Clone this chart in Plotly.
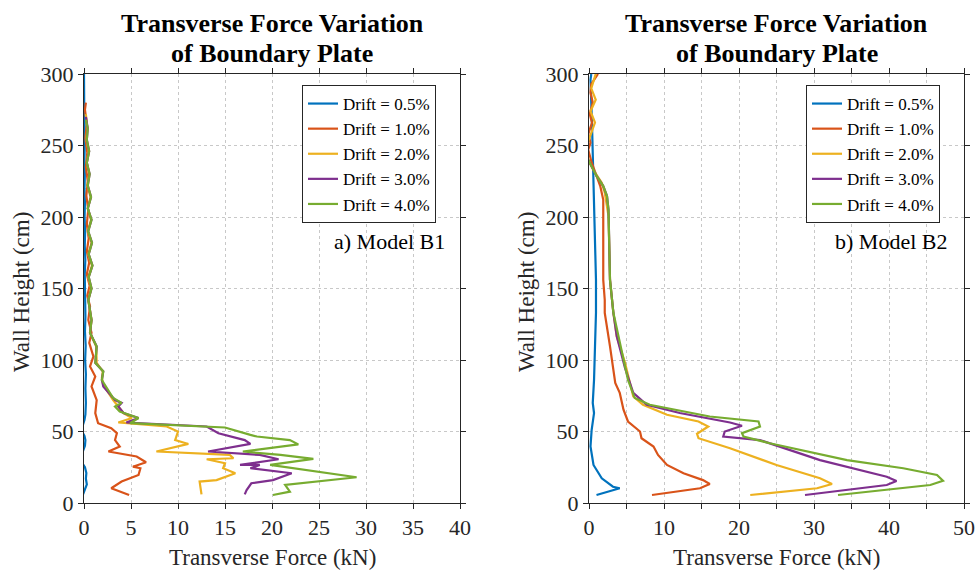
import plotly.graph_objects as go

labels = ["Drift = 0.5%", "Drift = 1.0%", "Drift = 2.0%", "Drift = 3.0%", "Drift = 4.0%"]
colors = ["#0072BD", "#D95319", "#EDB120", "#7E2F8E", "#77AC30"]

# ---------- Model B1 (left) : force (kN), height (cm) ----------
b1_05_h = [6, 9, 13, 17, 21, 25, 28, 33, 37, 40, 44, 47, 50, 55, 58, 62, 70, 80, 90, 100, 110, 120, 130, 140, 150,
           160, 170, 180, 190, 200, 210, 220, 230, 240, 250, 260, 270, 280, 290, 300]
b1_05_f = [-0.1, 0.1, 0.3, 0.2, 0.25, 0.1, -0.2, -0.3, -0.05, 0.1, 0.15, 0.05, -0.2, -0.1, 0.05, 0.15, 0.2, 0.15, 0.2,
           0.12, 0.18, 0.1, 0.15, 0.1, 0.12, 0.08, 0.14, 0.08, 0.12, 0.06, 0.1, 0.05, 0.09, 0.04, 0.08, 0.03, 0.06, 0.02,
           0.03, 0.0]

b1_10_h = [5.6, 10.3, 15, 19.6, 24.3, 25.4, 28.5, 32.5, 36, 39.5, 44, 48.8, 52.3, 55.8, 62.9, 72, 81.5, 88.5, 95.5,
           102.5, 112, 119, 128, 137.5, 145, 152, 160, 168, 176, 185, 195, 205, 215, 225, 235, 245, 255, 265, 275, 280]
b1_10_f = [4.8, 2.9, 4.0, 5.8, 6.0, 5.2, 6.6, 5.6, 2.6, 3.8, 3.3, 3.5, 2.9, 1.5, 1.2, 1.35, 0.8, 1.2, 0.64,
           1.0, 0.56, 0.8, 0.46, 0.64, 0.35, 0.6, 0.3, 0.55, 0.3, 0.5, 0.3, 0.45, 0.25, 0.4, 0.2, 0.35, 0.15, 0.3, 0.1, 0.2]

b1_20_h = [6, 15, 16, 20.8, 24.3, 27.8, 30.6, 31.3, 33.6, 36, 41.3, 44, 50, 53.5, 56.3, 59.4, 62.9, 67.5, 72, 82.7,
           87.4, 92, 98, 109.5, 119, 128, 142, 150, 158, 166, 174, 182, 190, 198, 206, 214, 222, 230, 238, 246, 254,
           262, 272]
b1_20_f = [12.5, 12.3, 14.1, 16.1, 14.8, 15.0, 13.05, 15.9, 15.5, 7.7, 11.1, 9.7, 10.0, 8.8, 3.65, 5.1, 4.2, 3.65,
           3.1, 2.05, 1.9, 2.0, 1.35, 1.3, 0.64, 0.8, 0.46, 0.75, 0.45, 0.85, 0.45, 0.8, 0.4, 0.75, 0.4, 0.7, 0.35,
           0.55, 0.3, 0.5, 0.25, 0.35, 0.2]

b1_30_h = [6, 9, 13.8, 16, 20.8, 24.3, 26.6, 26.7, 30.6, 33.6, 36, 41.3, 44, 48.8, 53.5, 56.3, 59.4, 62.9, 67.5, 70,
           72, 81.5, 86, 92, 98, 109.5, 119, 128, 142, 150, 158, 166, 174, 182, 190, 198, 206, 214, 222, 230, 238,
           246, 254, 262, 270]
b1_30_f = [17.1, 17.3, 17.8, 20.1, 22.1, 17.7, 18.7, 16.6, 20.7, 18.7, 13.2, 17.7, 17.1, 14.3, 13.05, 4.5, 5.8, 4.2,
           3.65, 4.0, 3.3, 2.05, 1.9, 2.05, 1.2, 1.35, 0.64, 0.8, 0.46, 0.8, 0.5, 0.9, 0.5, 0.85, 0.45, 0.8, 0.4,
           0.75, 0.4, 0.6, 0.3, 0.55, 0.3, 0.4, 0.2]

b1_40_h = [5.6, 7.9, 12.6, 18, 26.6, 30.8, 33.6, 36, 41, 44, 46.5, 47.6, 52.8, 55.8, 59.4, 64, 67.5, 70, 73.4, 86,
           92, 98, 109.5, 119, 128, 142, 150, 158, 166, 174, 182, 190, 198, 206, 214, 222, 230, 238, 246, 254, 262,
           268]
b1_40_f = [20.1, 21.9, 21.4, 29.0, 19.8, 24.4, 20.9, 16.9, 22.8, 21.9, 18.4, 17.7, 15.0, 4.9, 5.8, 3.8, 3.3, 4.0,
           3.1, 1.9, 2.05, 1.2, 1.35, 0.64, 0.8, 0.46, 0.8, 0.5, 0.9, 0.5, 0.85, 0.45, 0.8, 0.4, 0.75, 0.4, 0.6, 0.3,
           0.55, 0.3, 0.4, 0.2]

# ---------- Model B2 (right) ----------
b2_05_h = [5.6, 10.3, 11.4, 17.3, 26.6, 39.5, 51, 62.9, 70, 86, 109.5, 133, 156, 200, 231, 265, 296, 300]
b2_05_f = [1.0, 4.1, 3.2, 1.7, 0.6, 0.2, 0.35, 0.67, 0.5, 0.67, 0.8, 0.93, 0.93, 0.75, 0.57, 0.4, 0.2, 0.3]

b2_10_h = [5.6, 10.3, 13.3, 16, 20.8, 26.6, 33.6, 39.5, 45.3, 50, 57, 65.2, 77, 84, 109.5, 133, 142, 156, 212,
           221.6, 238, 247, 252, 258, 266, 272, 280, 287, 293, 298, 300]
b2_10_f = [8.4, 14.8, 16.1, 15.2, 12.6, 10.4, 9.2, 8.6, 7.0, 6.8, 5.2, 4.6, 4.1, 3.5, 2.8, 2.1, 2.1, 1.9, 1.9,
           1.5, 0.36, -0.1, 0.2, -0.1, 0.4, 0.1, 0.5, 0.2, 0.3, 0.9, 1.2]

b2_20_h = [5.6, 10.3, 13.3, 17.3, 26.6, 38.3, 45.3, 48.4, 53.5, 57, 61.7, 68.7, 74.5, 98, 116.5, 133, 156, 200.6,
           217, 224, 233, 240, 250, 258, 266, 274, 282, 290, 296, 300]
b2_20_f = [21.5, 30.4, 32.4, 30.8, 25.0, 18.8, 14.6, 14.4, 15.9, 14.6, 10.4, 7.2, 5.9, 4.8, 3.7, 3.25, 2.8, 2.6,
           2.1, 1.7, 0.57, -0.1, -0.3, 0.3, 0.8, 0.2, 0.9, 0.3, 0.6, 0.9]

b2_30_h = [5.6, 12.6, 15.4, 18.4, 30, 44, 46.5, 50, 54, 56.3, 62.9, 68.7, 77, 94.4, 116.5, 133, 156, 205, 214.6,
           221.6, 228.7, 236.9, 240]
b2_30_f = [28.8, 39.7, 41.0, 39.7, 30.8, 22.8, 17.9, 18.1, 20.4, 18.8, 12.1, 7.7, 5.9, 4.8, 3.7, 3.25, 2.8, 2.6,
           2.4, 1.9, 1.0, 0.13, -0.1]

b2_40_h = [5.6, 12.6, 15.6, 19.6, 24.3, 30, 41.8, 46.5, 48.8, 53.5, 57, 60.5, 68.7, 73.4, 86, 100, 133, 156, 205,
           214.6, 221.6, 228.7, 236.9, 240]
b2_40_f = [33.2, 45.5, 47.2, 46.4, 41.9, 34.4, 24.1, 20.6, 20.4, 22.8, 22.6, 16.1, 8.1, 6.1, 5.2, 4.6, 3.25, 2.8,
           2.6, 2.4, 1.9, 1.0, 0.13, -0.1]

left_series = [(b1_05_f, b1_05_h), (b1_10_f, b1_10_h), (b1_20_f, b1_20_h), (b1_30_f, b1_30_h), (b1_40_f, b1_40_h)]
right_series = [(b2_05_f, b2_05_h), (b2_10_f, b2_10_h), (b2_20_f, b2_20_h), (b2_30_f, b2_30_h), (b2_40_f, b2_40_h)]

left_xticks = [0, 5, 10, 15, 20, 25, 30, 35, 40]
right_xticks = [0, 5, 10, 15, 20, 25, 30, 35, 40, 45, 50]
right_xticktext = ["0", "", "10", "", "20", "", "30", "", "40", "", "50"]
yticks = [0, 50, 100, 150, 200, 250, 300]

FONT = "Liberation Serif, Times New Roman, serif"
W, H = 978, 571

fig = go.Figure()
for i, (f, h) in enumerate(left_series):
    fig.add_trace(go.Scatter(x=f, y=h, mode="lines", name=labels[i], line=dict(color=colors[i], width=2.2),
                             xaxis="x", yaxis="y", legend="legend"))
for i, (f, h) in enumerate(right_series):
    fig.add_trace(go.Scatter(x=f, y=h, mode="lines", name=labels[i], line=dict(color=colors[i], width=2.2),
                             xaxis="x2", yaxis="y2", legend="legend2"))

axis_common = dict(showline=True, linecolor="#262626", linewidth=1, mirror="ticks", ticks="outside",
                   ticklen=5, tickcolor="#262626", showgrid=True, gridcolor="#c8c8c8", griddash="dot",
                   gridwidth=1, zeroline=False, automargin=False,
                   tickfont=dict(family=FONT, size=22, color="#262626"))

ydom = [(H - 503) / H, (H - 74) / H]
legend_common = dict(xanchor="left", yanchor="top", bgcolor="white", bordercolor="#262626", borderwidth=1,
                     font=dict(family=FONT, size=17, color="black"), tracegroupgap=0)
fig.update_layout(
    width=W, height=H, margin=dict(l=0, r=0, t=0, b=0),
    plot_bgcolor="white", paper_bgcolor="white",
    xaxis=dict(domain=[84 / W, 460 / W], range=[0, 40], tickvals=left_xticks, anchor="y", **axis_common),
    yaxis=dict(domain=ydom, range=[0, 300], tickvals=yticks, anchor="x", **axis_common),
    xaxis2=dict(domain=[589 / W, 964 / W], range=[0, 50], tickvals=right_xticks, ticktext=right_xticktext,
                anchor="y2", **axis_common),
    yaxis2=dict(domain=ydom, range=[0, 300], tickvals=yticks, anchor="x2", **axis_common),
    legend=dict(x=302 / W, y=(H - 85) / H, **legend_common),
    legend2=dict(x=806 / W, y=(H - 85) / H, **legend_common),
    showlegend=True,
)

ann = []
for cx in [(84 + 460) / 2, (589 + 964) / 2]:
    ann.append(dict(text="<b>Transverse Force Variation</b>", x=cx / W, y=(H - 24) / H,
                    xref="paper", yref="paper", showarrow=False, xanchor="center", yanchor="middle",
                    font=dict(family=FONT, size=26, color="black")))
    ann.append(dict(text="<b>of Boundary Plate</b>", x=cx / W, y=(H - 54) / H,
                    xref="paper", yref="paper", showarrow=False, xanchor="center", yanchor="middle",
                    font=dict(family=FONT, size=26, color="black")))
    ann.append(dict(text="Transverse Force (kN)", x=cx / W, y=(H - 557) / H, xref="paper", yref="paper",
                    showarrow=False, xanchor="center", yanchor="middle",
                    font=dict(family=FONT, size=23, color="#262626")))
for lx in [22, 527]:
    ann.append(dict(text="Wall Height (cm)", x=lx / W, y=(H - 292) / H, xref="paper", yref="paper",
                    showarrow=False, textangle=-90, xanchor="center", yanchor="middle",
                    font=dict(family=FONT, size=23, color="#262626")))
ann.append(dict(text="a) Model B1", x=389 / W, y=(H - 242) / H, xref="paper", yref="paper", showarrow=False,
                xanchor="center", yanchor="middle", font=dict(family=FONT, size=22, color="black")))
ann.append(dict(text="b) Model B2", x=891 / W, y=(H - 242) / H, xref="paper", yref="paper", showarrow=False,
                xanchor="center", yanchor="middle", font=dict(family=FONT, size=22, color="black")))
fig.update_layout(annotations=ann)

fig.write_html("out.html")
